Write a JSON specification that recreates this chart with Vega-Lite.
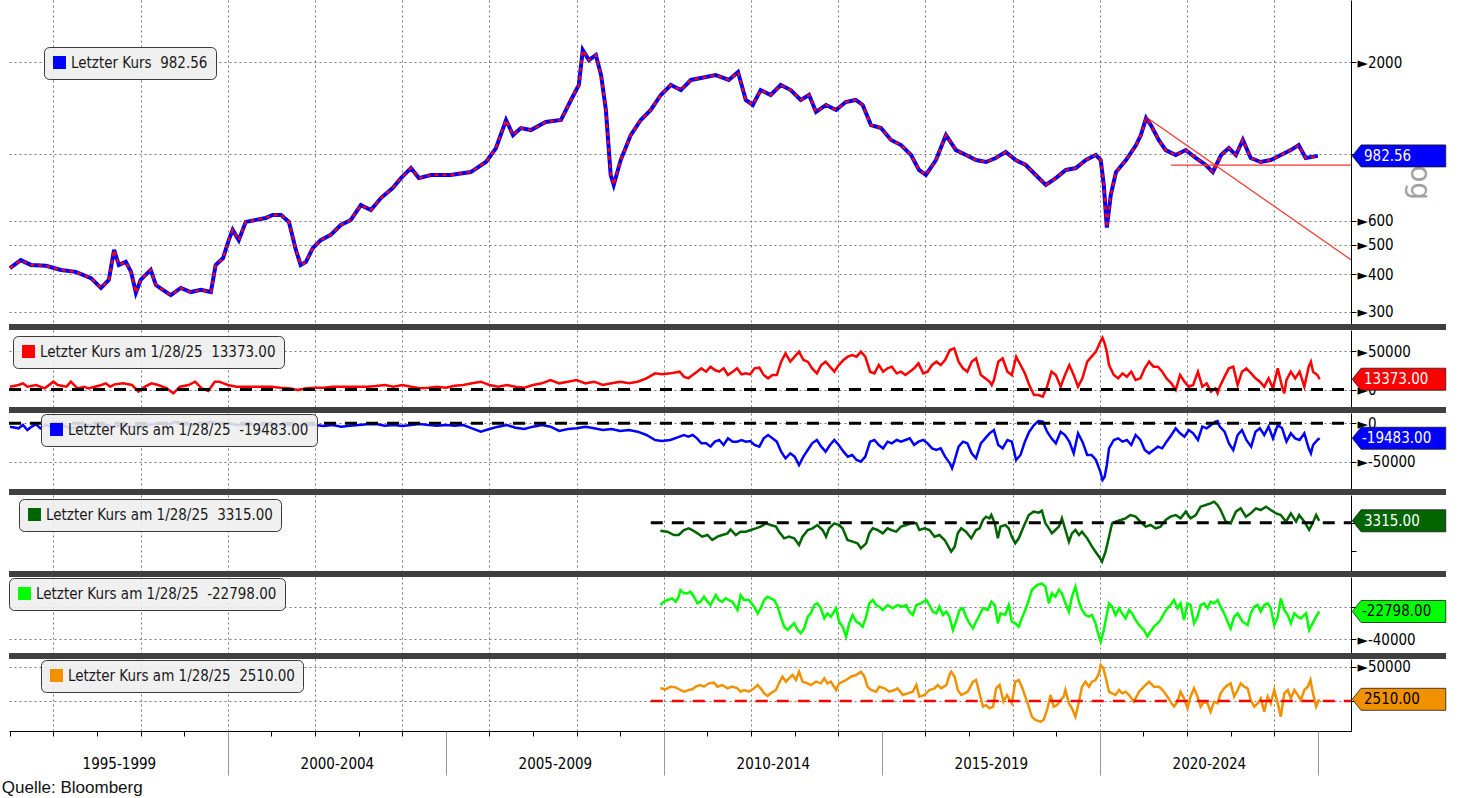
{
"$schema": "https://vega.github.io/schema/vega-lite/v6.json",
"padding": {"left": 1, "top": 0, "right": 10, "bottom": 0},
"background": "white",
"bounds": "flush",
"spacing": 3,
"title": {"text": "Quelle: Bloomberg", "orient": "bottom", "anchor": "start", "font": "Liberation Sans", "fontSize": 17, "fontWeight": "normal", "color": "#111111", "offset": 4},
"config": {
  "view": {"stroke": null},
  "font": "DejaVu Sans Condensed, DejaVu Sans",
  "axis": {"labelFont": "DejaVu Sans Condensed, DejaVu Sans", "labelFontSize": 15, "labelColor": "#000000", "tickColor": "#000000", "domainColor": "#000000", "gridColor": "#7a7a7a", "gridDash": [2, 3], "gridWidth": 1, "tickSize": 5, "labelPadding": 1, "title": null},
  "legend": {"labelFont": "DejaVu Sans Condensed, DejaVu Sans", "labelFontSize": 15, "labelColor": "#1a1a1a", "labelLimit": 600, "fillColor": "rgba(238,238,238,0.88)", "strokeColor": "#3a3a3a", "cornerRadius": 5, "padding": 8, "symbolType": "square", "symbolSize": 170, "symbolStrokeWidth": 0}
},
"resolve": {"scale": {"x": "independent", "y": "independent", "color": "independent"}},
"datasets": {
"price": [{"t":1995.0,"v":419},{"t":1995.25,"v":445},{"t":1995.48,"v":429},{"t":1995.83,"v":426},{"t":1996.17,"v":413},{"t":1996.51,"v":407},{"t":1996.86,"v":388},{"t":1997.09,"v":360},{"t":1997.27,"v":383},{"t":1997.39,"v":481},{"t":1997.5,"v":429},{"t":1997.66,"v":439},{"t":1997.78,"v":407},{"t":1997.89,"v":347},{"t":1998.0,"v":383},{"t":1998.23,"v":413},{"t":1998.35,"v":368},{"t":1998.51,"v":355},{"t":1998.69,"v":341},{"t":1998.92,"v":360},{"t":1999.15,"v":349},{"t":1999.38,"v":355},{"t":1999.61,"v":349},{"t":1999.72,"v":429},{"t":1999.89,"v":452},{"t":2000.02,"v":518},{"t":2000.11,"v":560},{"t":2000.25,"v":518},{"t":2000.41,"v":595},{"t":2000.64,"v":604},{"t":2000.87,"v":613},{"t":2001.03,"v":627},{"t":2001.22,"v":627},{"t":2001.4,"v":595},{"t":2001.56,"v":481},{"t":2001.67,"v":429},{"t":2001.79,"v":439},{"t":2001.95,"v":488},{"t":2002.13,"v":518},{"t":2002.36,"v":539},{"t":2002.59,"v":581},{"t":2002.82,"v":604},{"t":2003.05,"v":676},{"t":2003.28,"v":651},{"t":2003.51,"v":713},{"t":2003.78,"v":770},{"t":2003.97,"v":830},{"t":2004.2,"v":896},{"t":2004.38,"v":830},{"t":2004.66,"v":850},{"t":2005.11,"v":850},{"t":2005.57,"v":869},{"t":2005.92,"v":938},{"t":2006.15,"v":1043},{"t":2006.38,"v":1291},{"t":2006.54,"v":1151},{"t":2006.72,"v":1214},{"t":2006.95,"v":1196},{"t":2007.29,"v":1271},{"t":2007.64,"v":1291},{"t":2007.87,"v":1503},{"t":2008.05,"v":1684},{"t":2008.14,"v":2197},{"t":2008.28,"v":2036},{"t":2008.44,"v":2114},{"t":2008.56,"v":1817},{"t":2008.67,"v":1393},{"t":2008.78,"v":850},{"t":2008.85,"v":788},{"t":2009.01,"v":952},{"t":2009.24,"v":1151},{"t":2009.47,"v":1291},{"t":2009.7,"v":1393},{"t":2009.93,"v":1561},{"t":2010.16,"v":1684},{"t":2010.39,"v":1621},{"t":2010.62,"v":1750},{"t":2010.85,"v":1776},{"t":2011.19,"v":1817},{"t":2011.49,"v":1750},{"t":2011.7,"v":1859},{"t":2011.88,"v":1503},{"t":2012.04,"v":1447},{"t":2012.22,"v":1621},{"t":2012.45,"v":1561},{"t":2012.68,"v":1684},{"t":2012.91,"v":1621},{"t":2013.14,"v":1503},{"t":2013.33,"v":1561},{"t":2013.49,"v":1372},{"t":2013.72,"v":1447},{"t":2013.95,"v":1393},{"t":2014.17,"v":1480},{"t":2014.4,"v":1503},{"t":2014.56,"v":1447},{"t":2014.75,"v":1242},{"t":2014.98,"v":1214},{"t":2015.21,"v":1109},{"t":2015.44,"v":1067},{"t":2015.67,"v":989},{"t":2015.85,"v":883},{"t":2016.01,"v":850},{"t":2016.24,"v":952},{"t":2016.47,"v":1151},{"t":2016.7,"v":1027},{"t":2016.93,"v":989},{"t":2017.16,"v":952},{"t":2017.39,"v":938},{"t":2017.61,"v":967},{"t":2017.84,"v":1012},{"t":2018.07,"v":952},{"t":2018.3,"v":917},{"t":2018.53,"v":850},{"t":2018.76,"v":788},{"t":2018.99,"v":830},{"t":2019.22,"v":883},{"t":2019.45,"v":896},{"t":2019.68,"v":952},{"t":2019.91,"v":989},{"t":2020.02,"v":952},{"t":2020.09,"v":788},{"t":2020.16,"v":570},{"t":2020.25,"v":730},{"t":2020.37,"v":869},{"t":2020.6,"v":952},{"t":2020.83,"v":1067},{"t":2020.94,"v":1151},{"t":2021.06,"v":1310},{"t":2021.17,"v":1242},{"t":2021.35,"v":1109},{"t":2021.51,"v":1027},{"t":2021.74,"v":989},{"t":2021.97,"v":1027},{"t":2022.2,"v":967},{"t":2022.43,"v":917},{"t":2022.59,"v":869},{"t":2022.78,"v":989},{"t":2022.96,"v":1043},{"t":2023.12,"v":989},{"t":2023.28,"v":1109},{"t":2023.46,"v":967},{"t":2023.69,"v":938},{"t":2023.92,"v":952},{"t":2024.15,"v":989},{"t":2024.38,"v":1027},{"t":2024.56,"v":1067},{"t":2024.72,"v":967},{"t":2025.0,"v":982.56}],
"trend": [{"t1":2021.06,"v1":1321,"t2":2025.76,"v2":446},{"t1":2021.63,"v1":916,"t2":2025.76,"v2":916}],
"red": [{"t":1995.0,"v":3680},{"t":1995.2,"v":5840},{"t":1995.3,"v":8010},{"t":1995.4,"v":3680},{"t":1995.6,"v":5840},{"t":1995.8,"v":1520},{"t":1996.0,"v":10170},{"t":1996.1,"v":5840},{"t":1996.3,"v":3680},{"t":1996.4,"v":10170},{"t":1996.55,"v":1520},{"t":1996.7,"v":3680},{"t":1996.8,"v":1520},{"t":1996.95,"v":3680},{"t":1997.1,"v":5840},{"t":1997.2,"v":8010},{"t":1997.3,"v":3680},{"t":1997.4,"v":6700},{"t":1997.6,"v":8010},{"t":1997.8,"v":5840},{"t":1997.95,"v":-2810},{"t":1998.1,"v":3680},{"t":1998.25,"v":8010},{"t":1998.4,"v":5840},{"t":1998.6,"v":1520},{"t":1998.75,"v":-4980},{"t":1998.9,"v":3680},{"t":1999.1,"v":5840},{"t":1999.25,"v":10170},{"t":1999.4,"v":1520},{"t":1999.55,"v":-1950},{"t":1999.7,"v":10170},{"t":1999.8,"v":10170},{"t":2000.0,"v":5840},{"t":2000.2,"v":3680},{"t":2000.4,"v":3680},{"t":2000.6,"v":3680},{"t":2000.8,"v":3680},{"t":2001.0,"v":3680},{"t":2001.2,"v":2380},{"t":2001.4,"v":1520},{"t":2001.6,"v":-650},{"t":2001.8,"v":1520},{"t":2002.0,"v":2380},{"t":2002.2,"v":2380},{"t":2002.4,"v":3680},{"t":2002.6,"v":3680},{"t":2002.8,"v":3680},{"t":2003.0,"v":3680},{"t":2003.2,"v":3680},{"t":2003.4,"v":4550},{"t":2003.6,"v":5840},{"t":2003.8,"v":3680},{"t":2004.0,"v":5840},{"t":2004.2,"v":3680},{"t":2004.4,"v":1520},{"t":2004.6,"v":2380},{"t":2004.8,"v":3680},{"t":2005.0,"v":2380},{"t":2005.2,"v":4980},{"t":2005.4,"v":5840},{"t":2005.6,"v":8010},{"t":2005.8,"v":10170},{"t":2006.0,"v":5840},{"t":2006.2,"v":3680},{"t":2006.4,"v":5840},{"t":2006.6,"v":3680},{"t":2006.8,"v":2380},{"t":2007.0,"v":5840},{"t":2007.2,"v":8010},{"t":2007.4,"v":12340},{"t":2007.6,"v":8010},{"t":2007.8,"v":10170},{"t":2008.0,"v":12340},{"t":2008.2,"v":8010},{"t":2008.4,"v":10170},{"t":2008.6,"v":5840},{"t":2008.8,"v":8010},{"t":2009.0,"v":10170},{"t":2009.2,"v":8010},{"t":2009.4,"v":10170},{"t":2009.6,"v":14500},{"t":2009.8,"v":20990},{"t":2009.95,"v":19690},{"t":2010.15,"v":20990},{"t":2010.36,"v":23160},{"t":2010.46,"v":16670},{"t":2010.56,"v":14500},{"t":2010.66,"v":18830},{"t":2010.76,"v":23160},{"t":2010.86,"v":27490},{"t":2010.97,"v":23160},{"t":2011.07,"v":29650},{"t":2011.17,"v":25320},{"t":2011.27,"v":23160},{"t":2011.37,"v":27490},{"t":2011.47,"v":18830},{"t":2011.58,"v":23160},{"t":2011.68,"v":27490},{"t":2011.78,"v":19690},{"t":2011.88,"v":20990},{"t":2011.98,"v":19690},{"t":2012.08,"v":27490},{"t":2012.19,"v":28350},{"t":2012.29,"v":18830},{"t":2012.39,"v":14500},{"t":2012.49,"v":18830},{"t":2012.59,"v":18830},{"t":2012.69,"v":36150},{"t":2012.79,"v":46970},{"t":2012.9,"v":36150},{"t":2013.0,"v":42640},{"t":2013.1,"v":49130},{"t":2013.2,"v":38310},{"t":2013.3,"v":36150},{"t":2013.4,"v":27490},{"t":2013.51,"v":20990},{"t":2013.61,"v":31820},{"t":2013.71,"v":36150},{"t":2013.81,"v":29650},{"t":2013.91,"v":23160},{"t":2014.01,"v":31820},{"t":2014.12,"v":38310},{"t":2014.22,"v":42640},{"t":2014.32,"v":44800},{"t":2014.42,"v":42640},{"t":2014.52,"v":49130},{"t":2014.62,"v":42640},{"t":2014.73,"v":23160},{"t":2014.83,"v":20990},{"t":2014.93,"v":31820},{"t":2015.03,"v":23160},{"t":2015.13,"v":27490},{"t":2015.23,"v":29650},{"t":2015.34,"v":20990},{"t":2015.44,"v":23160},{"t":2015.54,"v":18830},{"t":2015.64,"v":23160},{"t":2015.74,"v":27490},{"t":2015.84,"v":33980},{"t":2015.95,"v":20990},{"t":2016.05,"v":23160},{"t":2016.15,"v":31820},{"t":2016.25,"v":36150},{"t":2016.35,"v":31820},{"t":2016.45,"v":38310},{"t":2016.56,"v":51300},{"t":2016.66,"v":53460},{"t":2016.76,"v":36150},{"t":2016.86,"v":27490},{"t":2016.96,"v":23160},{"t":2017.06,"v":36150},{"t":2017.16,"v":40480},{"t":2017.27,"v":18830},{"t":2017.37,"v":14500},{"t":2017.47,"v":10170},{"t":2017.52,"v":5840},{"t":2017.57,"v":12340},{"t":2017.67,"v":36150},{"t":2017.77,"v":40480},{"t":2017.88,"v":23160},{"t":2017.98,"v":18830},{"t":2018.08,"v":42640},{"t":2018.18,"v":31820},{"t":2018.28,"v":20990},{"t":2018.38,"v":5840},{"t":2018.49,"v":-7140},{"t":2018.59,"v":-7140},{"t":2018.69,"v":-9310},{"t":2018.79,"v":3680},{"t":2018.89,"v":23160},{"t":2018.99,"v":18830},{"t":2019.1,"v":3680},{"t":2019.2,"v":18830},{"t":2019.3,"v":31820},{"t":2019.4,"v":18830},{"t":2019.5,"v":3680},{"t":2019.6,"v":14500},{"t":2019.71,"v":36150},{"t":2019.81,"v":42640},{"t":2019.91,"v":49130},{"t":2020.01,"v":62100},{"t":2020.06,"v":67300},{"t":2020.11,"v":59960},{"t":2020.16,"v":49130},{"t":2020.21,"v":31820},{"t":2020.32,"v":18830},{"t":2020.42,"v":14500},{"t":2020.52,"v":20990},{"t":2020.62,"v":16670},{"t":2020.72,"v":23160},{"t":2020.82,"v":12340},{"t":2020.93,"v":14500},{"t":2021.03,"v":27490},{"t":2021.13,"v":36150},{"t":2021.23,"v":29650},{"t":2021.33,"v":29650},{"t":2021.43,"v":23160},{"t":2021.53,"v":14500},{"t":2021.64,"v":8010},{"t":2021.74,"v":-650},{"t":2021.84,"v":18830},{"t":2021.94,"v":10170},{"t":2022.04,"v":3680},{"t":2022.14,"v":5840},{"t":2022.25,"v":23160},{"t":2022.35,"v":3680},{"t":2022.45,"v":8010},{"t":2022.55,"v":-2810},{"t":2022.65,"v":1520},{"t":2022.7,"v":-4980},{"t":2022.75,"v":3680},{"t":2022.86,"v":16670},{"t":2022.96,"v":27490},{"t":2023.06,"v":29650},{"t":2023.16,"v":5840},{"t":2023.26,"v":23160},{"t":2023.36,"v":27490},{"t":2023.47,"v":20990},{"t":2023.57,"v":14500},{"t":2023.67,"v":10170},{"t":2023.77,"v":3680},{"t":2023.87,"v":14500},{"t":2023.97,"v":1520},{"t":2024.08,"v":27490},{"t":2024.18,"v":3680},{"t":2024.23,"v":-4980},{"t":2024.28,"v":12340},{"t":2024.38,"v":23160},{"t":2024.48,"v":14500},{"t":2024.58,"v":23160},{"t":2024.69,"v":3680},{"t":2024.79,"v":29650},{"t":2024.84,"v":36150},{"t":2024.89,"v":23160},{"t":2024.99,"v":18830},{"t":2025.04,"v":13373}],
"blue": [{"t":1995.0,"v":-4380},{"t":1995.2,"v":-6550},{"t":1995.3,"v":-2210},{"t":1995.4,"v":-8720},{"t":1995.5,"v":-4380},{"t":1995.6,"v":-1350},{"t":1995.7,"v":-6550},{"t":1995.8,"v":-2210},{"t":1996.0,"v":-4380},{"t":1996.2,"v":-2210},{"t":1996.4,"v":-6550},{"t":1996.6,"v":-4380},{"t":1996.8,"v":-2210},{"t":1997.0,"v":-4380},{"t":1997.2,"v":-2210},{"t":1997.4,"v":-4380},{"t":1997.6,"v":-2210},{"t":1997.8,"v":-4380},{"t":1998.0,"v":-1350},{"t":1998.2,"v":-2210},{"t":1998.4,"v":-40},{"t":1998.6,"v":-2210},{"t":1998.8,"v":2130},{"t":1999.0,"v":-1350},{"t":1999.2,"v":-2210},{"t":1999.4,"v":-1350},{"t":1999.6,"v":2130},{"t":1999.8,"v":-40},{"t":2000.0,"v":-40},{"t":2000.2,"v":-2210},{"t":2000.4,"v":-2210},{"t":2000.6,"v":-1350},{"t":2000.8,"v":-2210},{"t":2001.0,"v":-1350},{"t":2001.2,"v":-2210},{"t":2001.4,"v":-2210},{"t":2001.6,"v":-3080},{"t":2001.8,"v":-2210},{"t":2002.0,"v":-2210},{"t":2002.2,"v":-3520},{"t":2002.4,"v":-2210},{"t":2002.6,"v":-4380},{"t":2002.8,"v":-3080},{"t":2003.0,"v":-2210},{"t":2003.2,"v":-1350},{"t":2003.4,"v":-900},{"t":2003.6,"v":-3080},{"t":2003.8,"v":-2210},{"t":2004.0,"v":-3520},{"t":2004.2,"v":-2210},{"t":2004.4,"v":-900},{"t":2004.6,"v":-2210},{"t":2004.8,"v":-3080},{"t":2005.0,"v":-2210},{"t":2005.2,"v":-3080},{"t":2005.4,"v":-2210},{"t":2005.6,"v":-6550},{"t":2005.8,"v":-10890},{"t":2006.0,"v":-7420},{"t":2006.2,"v":-4380},{"t":2006.4,"v":-2210},{"t":2006.6,"v":-5690},{"t":2006.8,"v":-7420},{"t":2007.0,"v":-4380},{"t":2007.2,"v":-2210},{"t":2007.4,"v":-4380},{"t":2007.6,"v":-10020},{"t":2007.8,"v":-7420},{"t":2008.0,"v":-6550},{"t":2008.2,"v":-4380},{"t":2008.4,"v":-6550},{"t":2008.6,"v":-8720},{"t":2008.8,"v":-7420},{"t":2009.0,"v":-10020},{"t":2009.2,"v":-8720},{"t":2009.4,"v":-10890},{"t":2009.6,"v":-15230},{"t":2009.8,"v":-21740},{"t":2009.95,"v":-23040},{"t":2010.15,"v":-21740},{"t":2010.36,"v":-17400},{"t":2010.46,"v":-15230},{"t":2010.56,"v":-17400},{"t":2010.66,"v":-15230},{"t":2010.76,"v":-19570},{"t":2010.86,"v":-26080},{"t":2010.97,"v":-26080},{"t":2011.07,"v":-30420},{"t":2011.17,"v":-23910},{"t":2011.27,"v":-21740},{"t":2011.37,"v":-28250},{"t":2011.47,"v":-19570},{"t":2011.58,"v":-23910},{"t":2011.68,"v":-23910},{"t":2011.78,"v":-21740},{"t":2011.88,"v":-23910},{"t":2011.98,"v":-23040},{"t":2012.08,"v":-28250},{"t":2012.19,"v":-30420},{"t":2012.29,"v":-19570},{"t":2012.39,"v":-15230},{"t":2012.49,"v":-19570},{"t":2012.59,"v":-23910},{"t":2012.69,"v":-36930},{"t":2012.79,"v":-45610},{"t":2012.9,"v":-39100},{"t":2013.0,"v":-43440},{"t":2013.1,"v":-54290},{"t":2013.2,"v":-43440},{"t":2013.3,"v":-34760},{"t":2013.4,"v":-26080},{"t":2013.51,"v":-21740},{"t":2013.61,"v":-30420},{"t":2013.71,"v":-36930},{"t":2013.81,"v":-28250},{"t":2013.91,"v":-21740},{"t":2014.01,"v":-28250},{"t":2014.12,"v":-36930},{"t":2014.22,"v":-43440},{"t":2014.32,"v":-41270},{"t":2014.42,"v":-47780},{"t":2014.52,"v":-49950},{"t":2014.62,"v":-43440},{"t":2014.73,"v":-23910},{"t":2014.83,"v":-21740},{"t":2014.93,"v":-28250},{"t":2015.03,"v":-32590},{"t":2015.13,"v":-23910},{"t":2015.23,"v":-26080},{"t":2015.34,"v":-21740},{"t":2015.44,"v":-23910},{"t":2015.54,"v":-21740},{"t":2015.64,"v":-19570},{"t":2015.74,"v":-28250},{"t":2015.84,"v":-23910},{"t":2015.95,"v":-21740},{"t":2016.05,"v":-26080},{"t":2016.15,"v":-32590},{"t":2016.25,"v":-34760},{"t":2016.35,"v":-32590},{"t":2016.45,"v":-43440},{"t":2016.56,"v":-52120},{"t":2016.61,"v":-58630},{"t":2016.66,"v":-49950},{"t":2016.76,"v":-30420},{"t":2016.86,"v":-23910},{"t":2016.96,"v":-26080},{"t":2017.06,"v":-39100},{"t":2017.16,"v":-45610},{"t":2017.27,"v":-26080},{"t":2017.37,"v":-19570},{"t":2017.47,"v":-13060},{"t":2017.57,"v":-8720},{"t":2017.67,"v":-28250},{"t":2017.77,"v":-32590},{"t":2017.88,"v":-21740},{"t":2017.98,"v":-23910},{"t":2018.08,"v":-47780},{"t":2018.18,"v":-41270},{"t":2018.28,"v":-23910},{"t":2018.38,"v":-10890},{"t":2018.49,"v":-2210},{"t":2018.59,"v":2990},{"t":2018.69,"v":2130},{"t":2018.79,"v":-10890},{"t":2018.89,"v":-19570},{"t":2018.99,"v":-26080},{"t":2019.1,"v":-10890},{"t":2019.2,"v":-15230},{"t":2019.3,"v":-23910},{"t":2019.4,"v":-39100},{"t":2019.5,"v":-13060},{"t":2019.6,"v":-23910},{"t":2019.71,"v":-41270},{"t":2019.81,"v":-41270},{"t":2019.91,"v":-47780},{"t":2020.01,"v":-62970},{"t":2020.06,"v":-73820},{"t":2020.11,"v":-69480},{"t":2020.16,"v":-54290},{"t":2020.21,"v":-32590},{"t":2020.32,"v":-21740},{"t":2020.42,"v":-19570},{"t":2020.52,"v":-23910},{"t":2020.62,"v":-21740},{"t":2020.72,"v":-28250},{"t":2020.82,"v":-15230},{"t":2020.93,"v":-21740},{"t":2021.03,"v":-34760},{"t":2021.13,"v":-39100},{"t":2021.23,"v":-34760},{"t":2021.33,"v":-30420},{"t":2021.43,"v":-32590},{"t":2021.53,"v":-23910},{"t":2021.64,"v":-15230},{"t":2021.74,"v":-6550},{"t":2021.84,"v":-13060},{"t":2021.94,"v":-17400},{"t":2022.04,"v":-8720},{"t":2022.14,"v":-13060},{"t":2022.25,"v":-21740},{"t":2022.35,"v":-4380},{"t":2022.45,"v":-6550},{"t":2022.55,"v":-2210},{"t":2022.65,"v":2130},{"t":2022.7,"v":2990},{"t":2022.75,"v":-4380},{"t":2022.86,"v":-10890},{"t":2022.96,"v":-26080},{"t":2023.06,"v":-34760},{"t":2023.16,"v":-15230},{"t":2023.26,"v":-8720},{"t":2023.36,"v":-21740},{"t":2023.47,"v":-30420},{"t":2023.57,"v":-10890},{"t":2023.67,"v":-6550},{"t":2023.77,"v":-15230},{"t":2023.87,"v":-4380},{"t":2023.97,"v":-19570},{"t":2024.08,"v":-2210},{"t":2024.18,"v":-6550},{"t":2024.28,"v":-23910},{"t":2024.38,"v":-13060},{"t":2024.48,"v":-19570},{"t":2024.58,"v":-21740},{"t":2024.69,"v":-13060},{"t":2024.79,"v":-32590},{"t":2024.84,"v":-39100},{"t":2024.89,"v":-28250},{"t":2024.99,"v":-21740},{"t":2025.04,"v":-19483}],
"green": [{"t":2009.92,"v":-13980},{"t":2010.08,"v":-15730},{"t":2010.23,"v":-21570},{"t":2010.34,"v":-21570},{"t":2010.46,"v":-12800},{"t":2010.57,"v":-9880},{"t":2010.65,"v":-12800},{"t":2010.77,"v":-18650},{"t":2010.88,"v":-24500},{"t":2011.0,"v":-21570},{"t":2011.11,"v":-30340},{"t":2011.23,"v":-24500},{"t":2011.34,"v":-21570},{"t":2011.46,"v":-18650},{"t":2011.53,"v":-11640},{"t":2011.65,"v":-21570},{"t":2011.76,"v":-15730},{"t":2011.88,"v":-15730},{"t":2011.99,"v":-12800},{"t":2012.11,"v":-9880},{"t":2012.22,"v":-6960},{"t":2012.34,"v":-1110},{"t":2012.45,"v":-4030},{"t":2012.57,"v":-6960},{"t":2012.64,"v":-15730},{"t":2012.76,"v":-27420},{"t":2012.87,"v":-24500},{"t":2012.99,"v":-27420},{"t":2013.1,"v":-39110},{"t":2013.18,"v":-24500},{"t":2013.3,"v":-12800},{"t":2013.41,"v":-9880},{"t":2013.52,"v":-4030},{"t":2013.64,"v":-12800},{"t":2013.72,"v":-24500},{"t":2013.79,"v":-9880},{"t":2013.91,"v":-1110},{"t":2014.02,"v":-4030},{"t":2014.1,"v":-9880},{"t":2014.21,"v":-30340},{"t":2014.33,"v":-33270},{"t":2014.44,"v":-36190},{"t":2014.52,"v":-44960},{"t":2014.64,"v":-36190},{"t":2014.71,"v":-18650},{"t":2014.79,"v":-9880},{"t":2014.9,"v":-12800},{"t":2015.02,"v":-18650},{"t":2015.13,"v":-9880},{"t":2015.21,"v":-12800},{"t":2015.33,"v":-15730},{"t":2015.44,"v":-6960},{"t":2015.56,"v":-4030},{"t":2015.67,"v":-1110},{"t":2015.79,"v":-1110},{"t":2015.86,"v":-12800},{"t":2015.98,"v":-9880},{"t":2016.09,"v":-12800},{"t":2016.21,"v":-24500},{"t":2016.32,"v":-21570},{"t":2016.44,"v":-30340},{"t":2016.55,"v":-44960},{"t":2016.59,"v":-50810},{"t":2016.67,"v":-42040},{"t":2016.74,"v":-18650},{"t":2016.82,"v":-9880},{"t":2016.93,"v":-15730},{"t":2017.05,"v":-27420},{"t":2017.16,"v":-12800},{"t":2017.24,"v":-9880},{"t":2017.32,"v":4740},{"t":2017.39,"v":10580},{"t":2017.47,"v":7660},{"t":2017.51,"v":13500},{"t":2017.59,"v":-1110},{"t":2017.66,"v":-27420},{"t":2017.72,"v":-6960},{"t":2017.83,"v":-4030},{"t":2017.91,"v":-9880},{"t":2017.98,"v":-24500},{"t":2018.06,"v":-36190},{"t":2018.14,"v":-27420},{"t":2018.25,"v":-6960},{"t":2018.37,"v":13500},{"t":2018.48,"v":19350},{"t":2018.6,"v":17600},{"t":2018.67,"v":21110},{"t":2018.75,"v":-1110},{"t":2018.83,"v":-9880},{"t":2018.9,"v":-18650},{"t":2018.98,"v":-12800},{"t":2019.06,"v":-6960},{"t":2019.13,"v":7660},{"t":2019.21,"v":-12800},{"t":2019.29,"v":-33270},{"t":2019.36,"v":-18650},{"t":2019.44,"v":-12800},{"t":2019.52,"v":-21570},{"t":2019.59,"v":-15730},{"t":2019.71,"v":-27420},{"t":2019.82,"v":-42040},{"t":2019.9,"v":-50810},{"t":2019.98,"v":-59580},{"t":2020.05,"v":-68350},{"t":2020.13,"v":-50810},{"t":2020.21,"v":-24500},{"t":2020.28,"v":-1110},{"t":2020.36,"v":1810},{"t":2020.48,"v":4740},{"t":2020.59,"v":7660},{"t":2020.7,"v":13500},{"t":2020.82,"v":10580},{"t":2020.93,"v":1810},{"t":2021.05,"v":-6960},{"t":2021.16,"v":-4030},{"t":2021.28,"v":-9880},{"t":2021.39,"v":-6960},{"t":2021.51,"v":4740},{"t":2021.62,"v":10580},{"t":2021.74,"v":13500},{"t":2021.85,"v":7660},{"t":2021.97,"v":19350},{"t":2022.08,"v":7660},{"t":2022.2,"v":13500},{"t":2022.31,"v":28120},{"t":2022.43,"v":31050},{"t":2022.54,"v":33970},{"t":2022.62,"v":36890},{"t":2022.7,"v":31050},{"t":2022.77,"v":22280},{"t":2022.89,"v":1810},{"t":2023.0,"v":-1110},{"t":2023.12,"v":19350},{"t":2023.23,"v":25200},{"t":2023.35,"v":10580},{"t":2023.46,"v":16430},{"t":2023.58,"v":25200},{"t":2023.69,"v":22280},{"t":2023.81,"v":28120},{"t":2023.92,"v":22280},{"t":2024.04,"v":16430},{"t":2024.15,"v":13500},{"t":2024.27,"v":1810},{"t":2024.38,"v":16430},{"t":2024.5,"v":1810},{"t":2024.57,"v":13500},{"t":2024.69,"v":1810},{"t":2024.8,"v":-12800},{"t":2024.88,"v":-1110},{"t":2024.96,"v":13500},{"t":2025.03,"v":3315}],
"lime": [{"t":2009.92,"v":-18750},{"t":2010.0,"v":-16670},{"t":2010.08,"v":-15630},{"t":2010.19,"v":-14580},{"t":2010.27,"v":-16670},{"t":2010.34,"v":-13540},{"t":2010.38,"v":-9380},{"t":2010.46,"v":-11460},{"t":2010.54,"v":-11460},{"t":2010.61,"v":-10420},{"t":2010.69,"v":-13540},{"t":2010.77,"v":-17710},{"t":2010.84,"v":-16670},{"t":2010.92,"v":-13540},{"t":2011.0,"v":-16670},{"t":2011.07,"v":-18750},{"t":2011.19,"v":-12500},{"t":2011.26,"v":-15630},{"t":2011.34,"v":-16670},{"t":2011.42,"v":-14580},{"t":2011.49,"v":-15630},{"t":2011.57,"v":-16670},{"t":2011.69,"v":-21880},{"t":2011.76,"v":-12500},{"t":2011.84,"v":-15630},{"t":2011.95,"v":-15630},{"t":2012.07,"v":-19790},{"t":2012.15,"v":-23960},{"t":2012.22,"v":-20830},{"t":2012.3,"v":-15630},{"t":2012.38,"v":-13540},{"t":2012.45,"v":-14580},{"t":2012.53,"v":-15630},{"t":2012.61,"v":-19790},{"t":2012.68,"v":-26040},{"t":2012.76,"v":-32290},{"t":2012.84,"v":-34380},{"t":2012.91,"v":-32290},{"t":2012.99,"v":-30210},{"t":2013.07,"v":-34380},{"t":2013.14,"v":-36460},{"t":2013.22,"v":-33330},{"t":2013.3,"v":-26040},{"t":2013.37,"v":-23960},{"t":2013.45,"v":-18750},{"t":2013.52,"v":-17710},{"t":2013.6,"v":-20830},{"t":2013.68,"v":-27080},{"t":2013.75,"v":-23960},{"t":2013.83,"v":-26040},{"t":2013.95,"v":-20830},{"t":2014.02,"v":-29170},{"t":2014.1,"v":-32290},{"t":2014.18,"v":-38540},{"t":2014.25,"v":-30210},{"t":2014.33,"v":-25000},{"t":2014.41,"v":-29170},{"t":2014.48,"v":-30210},{"t":2014.56,"v":-32290},{"t":2014.64,"v":-26040},{"t":2014.71,"v":-17710},{"t":2014.79,"v":-15630},{"t":2014.87,"v":-18750},{"t":2014.94,"v":-19790},{"t":2015.02,"v":-21880},{"t":2015.13,"v":-18750},{"t":2015.25,"v":-20830},{"t":2015.36,"v":-18750},{"t":2015.48,"v":-19790},{"t":2015.56,"v":-18750},{"t":2015.63,"v":-22920},{"t":2015.71,"v":-25000},{"t":2015.79,"v":-18750},{"t":2015.9,"v":-17710},{"t":2016.02,"v":-15630},{"t":2016.09,"v":-18750},{"t":2016.17,"v":-22920},{"t":2016.25,"v":-23960},{"t":2016.32,"v":-19790},{"t":2016.4,"v":-25000},{"t":2016.48,"v":-22920},{"t":2016.55,"v":-26040},{"t":2016.63,"v":-34380},{"t":2016.7,"v":-29170},{"t":2016.78,"v":-21880},{"t":2016.86,"v":-20830},{"t":2016.93,"v":-26040},{"t":2017.01,"v":-30210},{"t":2017.09,"v":-33330},{"t":2017.16,"v":-29170},{"t":2017.24,"v":-25000},{"t":2017.32,"v":-20830},{"t":2017.43,"v":-21880},{"t":2017.51,"v":-16670},{"t":2017.59,"v":-18750},{"t":2017.66,"v":-30210},{"t":2017.72,"v":-23960},{"t":2017.83,"v":-25000},{"t":2017.91,"v":-18750},{"t":2017.98,"v":-29170},{"t":2018.06,"v":-30210},{"t":2018.14,"v":-32290},{"t":2018.21,"v":-27080},{"t":2018.29,"v":-21880},{"t":2018.37,"v":-15630},{"t":2018.44,"v":-9380},{"t":2018.56,"v":-6250},{"t":2018.67,"v":-5210},{"t":2018.75,"v":-7290},{"t":2018.83,"v":-17710},{"t":2018.9,"v":-11460},{"t":2018.98,"v":-13540},{"t":2019.06,"v":-9380},{"t":2019.13,"v":-11460},{"t":2019.21,"v":-17710},{"t":2019.29,"v":-22920},{"t":2019.36,"v":-13540},{"t":2019.44,"v":-7290},{"t":2019.52,"v":-16670},{"t":2019.59,"v":-21880},{"t":2019.67,"v":-25000},{"t":2019.75,"v":-26040},{"t":2019.82,"v":-25000},{"t":2019.9,"v":-30210},{"t":2019.98,"v":-38540},{"t":2020.02,"v":-41670},{"t":2020.09,"v":-34380},{"t":2020.21,"v":-17710},{"t":2020.28,"v":-19790},{"t":2020.36,"v":-25000},{"t":2020.44,"v":-20830},{"t":2020.51,"v":-23960},{"t":2020.59,"v":-27080},{"t":2020.67,"v":-21880},{"t":2020.74,"v":-23960},{"t":2020.82,"v":-28130},{"t":2020.93,"v":-32290},{"t":2021.01,"v":-34380},{"t":2021.09,"v":-38540},{"t":2021.16,"v":-35420},{"t":2021.24,"v":-32290},{"t":2021.32,"v":-30210},{"t":2021.39,"v":-28130},{"t":2021.47,"v":-23960},{"t":2021.55,"v":-20830},{"t":2021.62,"v":-18750},{"t":2021.7,"v":-15630},{"t":2021.78,"v":-20830},{"t":2021.85,"v":-17710},{"t":2021.93,"v":-28130},{"t":2022.01,"v":-17710},{"t":2022.08,"v":-18750},{"t":2022.16,"v":-30210},{"t":2022.24,"v":-26040},{"t":2022.31,"v":-18750},{"t":2022.39,"v":-17710},{"t":2022.47,"v":-20830},{"t":2022.54,"v":-16670},{"t":2022.62,"v":-17710},{"t":2022.7,"v":-15630},{"t":2022.77,"v":-19790},{"t":2022.85,"v":-23960},{"t":2022.93,"v":-29170},{"t":2023.0,"v":-33330},{"t":2023.08,"v":-26040},{"t":2023.16,"v":-23960},{"t":2023.27,"v":-29170},{"t":2023.39,"v":-31250},{"t":2023.46,"v":-23960},{"t":2023.54,"v":-19790},{"t":2023.62,"v":-18750},{"t":2023.69,"v":-22920},{"t":2023.77,"v":-18750},{"t":2023.85,"v":-17710},{"t":2023.92,"v":-20830},{"t":2024.0,"v":-31250},{"t":2024.08,"v":-26040},{"t":2024.15,"v":-14580},{"t":2024.23,"v":-21880},{"t":2024.31,"v":-25000},{"t":2024.38,"v":-30210},{"t":2024.46,"v":-23960},{"t":2024.54,"v":-26040},{"t":2024.61,"v":-27080},{"t":2024.73,"v":-23960},{"t":2024.8,"v":-34380},{"t":2024.88,"v":-30210},{"t":2024.96,"v":-26040},{"t":2025.03,"v":-22798}],
"orange": [{"t":2009.92,"v":18620},{"t":2010.04,"v":17150},{"t":2010.15,"v":21070},{"t":2010.27,"v":20090},{"t":2010.38,"v":16170},{"t":2010.46,"v":13720},{"t":2010.57,"v":16170},{"t":2010.65,"v":17150},{"t":2010.73,"v":21070},{"t":2010.84,"v":23520},{"t":2010.92,"v":21070},{"t":2011.03,"v":25970},{"t":2011.15,"v":26950},{"t":2011.23,"v":21070},{"t":2011.34,"v":23520},{"t":2011.46,"v":18620},{"t":2011.57,"v":21070},{"t":2011.69,"v":18620},{"t":2011.76,"v":13720},{"t":2011.84,"v":16170},{"t":2011.95,"v":13720},{"t":2012.07,"v":18620},{"t":2012.15,"v":23520},{"t":2012.22,"v":18620},{"t":2012.3,"v":11270},{"t":2012.38,"v":7350},{"t":2012.45,"v":11270},{"t":2012.57,"v":16170},{"t":2012.64,"v":25970},{"t":2012.72,"v":35770},{"t":2012.8,"v":28420},{"t":2012.87,"v":33320},{"t":2012.95,"v":38220},{"t":2013.03,"v":30870},{"t":2013.1,"v":43120},{"t":2013.18,"v":28420},{"t":2013.3,"v":25970},{"t":2013.37,"v":23520},{"t":2013.49,"v":28420},{"t":2013.6,"v":25970},{"t":2013.68,"v":33320},{"t":2013.75,"v":25970},{"t":2013.83,"v":28420},{"t":2013.95,"v":16170},{"t":2014.02,"v":25970},{"t":2014.1,"v":28420},{"t":2014.18,"v":30870},{"t":2014.29,"v":35770},{"t":2014.41,"v":38220},{"t":2014.52,"v":43120},{"t":2014.6,"v":35770},{"t":2014.67,"v":21070},{"t":2014.75,"v":16170},{"t":2014.87,"v":13720},{"t":2014.94,"v":21070},{"t":2015.06,"v":18620},{"t":2015.17,"v":13720},{"t":2015.29,"v":16170},{"t":2015.36,"v":18620},{"t":2015.48,"v":8820},{"t":2015.59,"v":11270},{"t":2015.71,"v":13720},{"t":2015.79,"v":23520},{"t":2015.86,"v":6370},{"t":2015.98,"v":8820},{"t":2016.09,"v":16170},{"t":2016.21,"v":18620},{"t":2016.28,"v":23520},{"t":2016.36,"v":18620},{"t":2016.48,"v":23520},{"t":2016.55,"v":38220},{"t":2016.59,"v":43120},{"t":2016.67,"v":35770},{"t":2016.74,"v":16170},{"t":2016.82,"v":8820},{"t":2016.9,"v":11270},{"t":2016.97,"v":13720},{"t":2017.09,"v":28420},{"t":2017.16,"v":30870},{"t":2017.24,"v":11270},{"t":2017.32,"v":-8330},{"t":2017.39,"v":-5880},{"t":2017.47,"v":-10780},{"t":2017.55,"v":-8330},{"t":2017.62,"v":18620},{"t":2017.7,"v":23520},{"t":2017.79,"v":-980},{"t":2017.87,"v":8820},{"t":2017.98,"v":-3430},{"t":2018.06,"v":28420},{"t":2018.14,"v":30870},{"t":2018.21,"v":21070},{"t":2018.29,"v":6370},{"t":2018.37,"v":-8330},{"t":2018.44,"v":-23030},{"t":2018.52,"v":-27930},{"t":2018.64,"v":-30380},{"t":2018.71,"v":-27930},{"t":2018.79,"v":-13230},{"t":2018.87,"v":8820},{"t":2018.94,"v":-8330},{"t":2019.02,"v":-5880},{"t":2019.1,"v":1470},{"t":2019.17,"v":6370},{"t":2019.21,"v":16170},{"t":2019.29,"v":-3430},{"t":2019.36,"v":-10780},{"t":2019.44,"v":-23030},{"t":2019.52,"v":-980},{"t":2019.59,"v":21070},{"t":2019.67,"v":28420},{"t":2019.75,"v":21070},{"t":2019.82,"v":28420},{"t":2019.9,"v":30870},{"t":2019.98,"v":40670},{"t":2020.02,"v":52920},{"t":2020.08,"v":48020},{"t":2020.13,"v":35770},{"t":2020.21,"v":13720},{"t":2020.28,"v":11270},{"t":2020.36,"v":8820},{"t":2020.44,"v":16170},{"t":2020.51,"v":11270},{"t":2020.59,"v":13720},{"t":2020.67,"v":8820},{"t":2020.78,"v":-980},{"t":2020.9,"v":13720},{"t":2021.01,"v":21070},{"t":2021.13,"v":28420},{"t":2021.24,"v":21070},{"t":2021.36,"v":21070},{"t":2021.47,"v":13720},{"t":2021.55,"v":6370},{"t":2021.62,"v":-980},{"t":2021.7,"v":-8330},{"t":2021.78,"v":-980},{"t":2021.85,"v":13720},{"t":2021.93,"v":3920},{"t":2022.01,"v":-10780},{"t":2022.08,"v":6370},{"t":2022.16,"v":18620},{"t":2022.24,"v":6370},{"t":2022.31,"v":-8330},{"t":2022.39,"v":-980},{"t":2022.47,"v":-3430},{"t":2022.54,"v":-15680},{"t":2022.62,"v":-980},{"t":2022.7,"v":-3430},{"t":2022.77,"v":11270},{"t":2022.85,"v":18620},{"t":2022.93,"v":23520},{"t":2023.0,"v":25970},{"t":2023.08,"v":6370},{"t":2023.16,"v":16170},{"t":2023.23,"v":25970},{"t":2023.31,"v":21070},{"t":2023.39,"v":18620},{"t":2023.46,"v":1470},{"t":2023.54,"v":-8330},{"t":2023.62,"v":-3430},{"t":2023.69,"v":3920},{"t":2023.77,"v":-15680},{"t":2023.85,"v":6370},{"t":2023.92,"v":-3430},{"t":2024.0,"v":16170},{"t":2024.08,"v":-3430},{"t":2024.15,"v":-23030},{"t":2024.23,"v":11270},{"t":2024.31,"v":16170},{"t":2024.38,"v":3920},{"t":2024.46,"v":16170},{"t":2024.54,"v":8820},{"t":2024.61,"v":1470},{"t":2024.69,"v":16170},{"t":2024.77,"v":21070},{"t":2024.83,"v":30870},{"t":2024.88,"v":13720},{"t":2024.96,"v":-8330},{"t":2025.03,"v":2510}]
},
"vconcat": [
{
 "width": 1342, "height": 327,
 "layer": [
  {"data": {"name": "price"}, "mark": {"type": "line", "strokeWidth": 4},
   "encoding": {
    "x": {"field": "t", "type": "quantitative", "scale": {"domain": [1994.98, 2025.76], "nice": false, "zero": false}, "axis": {"values": [1996,1998,2000,2002,2004,2006,2008,2010,2012,2014,2016,2018,2020,2022,2024], "grid": true, "ticks": false, "labels": false, "domain": false}},
    "y": {"field": "v", "type": "quantitative", "scale": {"type": "log", "domain": [267.6, 3214], "nice": false}, "axis": {"orient": "right", "values": [300,400,500,600,1000,2000], "labelExpr": "datum.value == 1000 ? '' : '\u25ba' + toString(datum.value)", "grid": true}},
    "color": {"datum": "Letzter Kurs\u00a0\u00a0982.56", "type": "nominal", "scale": {"range": ["#0000ff"]}, "legend": {"orient": "none", "legendX": 35, "legendY": 47, "title": null, "symbolFillColor": "#0000ff", "symbolStrokeColor": "#0000ff", "symbolType": "square", "encode": {"symbols": {"update": {"fill": {"value": "#0000ff"}, "stroke": {"value": "#0000ff"}, "shape": {"value": "square"}}}}}}
   }},
  {"data": {"name": "price"}, "mark": {"type": "line", "color": "#ff0000", "strokeWidth": 2.3, "strokeDash": [4, 4]},
   "encoding": {"x": {"field": "t", "type": "quantitative"}, "y": {"field": "v", "type": "quantitative"}}},
  {"data": {"name": "trend"}, "mark": {"type": "rule", "color": "#ff3030", "strokeWidth": 1.2},
   "encoding": {"x": {"field": "t1", "type": "quantitative"}, "x2": {"field": "t2"}, "y": {"field": "v1", "type": "quantitative"}, "y2": {"field": "v2"}}},
  {"data": {"values": [{}]}, "mark": {"type": "rule", "color": "#404040", "strokeWidth": 6, "x2Offset": 95},
   "encoding": {"x": {"datum": 1994.98, "type": "quantitative"}, "x2": {"datum": 2025.76}, "y": {"datum": 267.6, "type": "quantitative"}}},
  {"data": {"values": [{}]}, "mark": {"type": "text", "text": "Log", "angle": 90, "fontSize": 28, "color": "#a0a0a0", "font": "DejaVu Sans", "align": "center", "baseline": "middle", "xOffset": 68},
   "encoding": {"x": {"datum": 2025.76, "type": "quantitative"}, "y": {"datum": 849, "type": "quantitative"}}},
  {"data": {"values": [{"v": 982.56, "s": "982.56"}]}, "mark": {"type": "point", "shape": "M-4.25,0L-3.45,-1L4.25,-1L4.25,1L-3.45,1Z", "size": 484, "filled": true, "fill": "#0000ff", "stroke": "#1a1a1a", "strokeWidth": 0.8, "opacity": 1, "xOffset": 48},
   "encoding": {"x": {"datum": 2025.76, "type": "quantitative"}, "y": {"field": "v", "type": "quantitative"}}},
  {"data": {"values": [{"v": 982.56, "s": "982.56"}]}, "mark": {"type": "text", "align": "left", "dx": 13, "color": "#ffffff", "fontSize": 15, "font": "DejaVu Sans Condensed, DejaVu Sans"},
   "encoding": {"x": {"datum": 2025.76, "type": "quantitative"}, "y": {"field": "v", "type": "quantitative"}, "text": {"field": "s"}}}
 ]
},
{
 "width": 1342, "height": 80,
 "layer": [
  {"data": {"name": "red"}, "mark": {"type": "line", "strokeWidth": 2.5},
   "encoding": {
    "x": {"field": "t", "type": "quantitative", "scale": {"domain": [1994.98, 2025.76], "nice": false, "zero": false}, "axis": {"values": [1996,1998,2000,2002,2004,2006,2008,2010,2012,2014,2016,2018,2020,2022,2024], "grid": true, "ticks": false, "labels": false, "domain": false}},
    "y": {"field": "v", "type": "quantitative", "scale": {"domain": [-26600, 77300], "nice": false, "zero": false}, "axis": {"orient": "right", "values": [0, 50000], "labelExpr": "'\u25ba' + toString(datum.value)", "grid": true}},
    "color": {"datum": "Letzter Kurs am 1/28/25\u00a0\u00a013373.00", "type": "nominal", "scale": {"range": ["#ff0000"]}, "legend": {"orient": "none", "legendX": 4, "legendY": 6, "title": null, "symbolFillColor": "#ff0000", "symbolStrokeColor": "#ff0000", "symbolType": "square", "encode": {"symbols": {"update": {"fill": {"value": "#ff0000"}, "stroke": {"value": "#ff0000"}, "shape": {"value": "square"}}}}}}
   }},
  {"data": {"values": [{"t1": 1994.98, "t2": 2025.76, "v": 0}]}, "mark": {"type": "rule", "color": "#000000", "strokeWidth": 3, "strokeDash": [12, 9]},
   "encoding": {"x": {"field": "t1", "type": "quantitative"}, "x2": {"field": "t2"}, "y": {"field": "v", "type": "quantitative"}}},
  {"data": {"values": [{}]}, "mark": {"type": "rule", "color": "#404040", "strokeWidth": 6, "x2Offset": 95},
   "encoding": {"x": {"datum": 1994.98, "type": "quantitative"}, "x2": {"datum": 2025.76}, "y": {"datum": -26600, "type": "quantitative"}}},
  {"data": {"values": [{"v": 13373, "s": "13373.00"}]}, "mark": {"type": "point", "shape": "M-4.25,0L-3.45,-1L4.25,-1L4.25,1L-3.45,1Z", "size": 484, "filled": true, "fill": "#ff0000", "stroke": "#1a1a1a", "strokeWidth": 0.8, "opacity": 1, "xOffset": 48},
   "encoding": {"x": {"datum": 2025.76, "type": "quantitative"}, "y": {"field": "v", "type": "quantitative"}}},
  {"data": {"values": [{"v": 13373, "s": "13373.00"}]}, "mark": {"type": "text", "align": "left", "dx": 13, "color": "#ffffff", "fontSize": 15, "font": "DejaVu Sans Condensed, DejaVu Sans"},
   "encoding": {"x": {"datum": 2025.76, "type": "quantitative"}, "y": {"field": "v", "type": "quantitative"}, "text": {"field": "s"}}}
 ]
},
{
 "width": 1342, "height": 79,
 "layer": [
  {"data": {"name": "blue"}, "mark": {"type": "line", "strokeWidth": 2.5},
   "encoding": {
    "x": {"field": "t", "type": "quantitative", "scale": {"domain": [1994.98, 2025.76], "nice": false, "zero": false}, "axis": {"values": [1996,1998,2000,2002,2004,2006,2008,2010,2012,2014,2016,2018,2020,2022,2024], "grid": true, "ticks": false, "labels": false, "domain": false}},
    "y": {"field": "v", "type": "quantitative", "scale": {"domain": [-89450, 13400], "nice": false, "zero": false}, "axis": {"orient": "right", "values": [-50000, 0], "labelExpr": "'\u25ba' + toString(datum.value)", "grid": true}},
    "color": {"datum": "Letzter Kurs am 1/28/25\u00a0\u00a0-19483.00", "type": "nominal", "scale": {"range": ["#0000ff"]}, "legend": {"orient": "none", "legendX": 32, "legendY": 1, "title": null, "symbolFillColor": "#0000ff", "symbolStrokeColor": "#0000ff", "symbolType": "square", "encode": {"symbols": {"update": {"fill": {"value": "#0000ff"}, "stroke": {"value": "#0000ff"}, "shape": {"value": "square"}}}}}}
   }},
  {"data": {"values": [{"t1": 1994.98, "t2": 2025.76, "v": 0}]}, "mark": {"type": "rule", "color": "#000000", "strokeWidth": 3, "strokeDash": [12, 9]},
   "encoding": {"x": {"field": "t1", "type": "quantitative"}, "x2": {"field": "t2"}, "y": {"field": "v", "type": "quantitative"}}},
  {"data": {"values": [{}]}, "mark": {"type": "rule", "color": "#404040", "strokeWidth": 6, "x2Offset": 95},
   "encoding": {"x": {"datum": 1994.98, "type": "quantitative"}, "x2": {"datum": 2025.76}, "y": {"datum": -89450, "type": "quantitative"}}},
  {"data": {"values": [{"v": -19483, "s": "-19483.00"}]}, "mark": {"type": "point", "shape": "M-4.25,0L-3.45,-1L4.25,-1L4.25,1L-3.45,1Z", "size": 484, "filled": true, "fill": "#0000ff", "stroke": "#1a1a1a", "strokeWidth": 0.8, "opacity": 1, "xOffset": 48},
   "encoding": {"x": {"datum": 2025.76, "type": "quantitative"}, "y": {"field": "v", "type": "quantitative"}}},
  {"data": {"values": [{"v": -19483, "s": "-19483.00"}]}, "mark": {"type": "text", "align": "left", "dx": 11, "color": "#ffffff", "fontSize": 15, "font": "DejaVu Sans Condensed, DejaVu Sans"},
   "encoding": {"x": {"datum": 2025.76, "type": "quantitative"}, "y": {"field": "v", "type": "quantitative"}, "text": {"field": "s"}}}
 ]
},
{
 "width": 1342, "height": 79,
 "layer": [
  {"data": {"name": "green"}, "mark": {"type": "line", "strokeWidth": 2.5},
   "encoding": {
    "x": {"field": "t", "type": "quantitative", "scale": {"domain": [1994.98, 2025.76], "nice": false, "zero": false}, "axis": {"values": [1996,1998,2000,2002,2004,2006,2008,2010,2012,2014,2016,2018,2020,2022,2024], "grid": true, "ticks": false, "labels": false, "domain": false}},
    "y": {"field": "v", "type": "quantitative", "scale": {"domain": [-90000, 48600], "nice": false, "zero": false}, "axis": {"orient": "right", "values": [-50000, 0], "labels": false, "grid": false}},
    "color": {"datum": "Letzter Kurs am 1/28/25\u00a0\u00a03315.00", "type": "nominal", "scale": {"range": ["#006400"]}, "legend": {"orient": "none", "legendX": 10, "legendY": 4, "title": null, "symbolFillColor": "#006400", "symbolStrokeColor": "#006400", "symbolType": "square", "encode": {"symbols": {"update": {"fill": {"value": "#006400"}, "stroke": {"value": "#006400"}, "shape": {"value": "square"}}}}}}
   }},
  {"data": {"values": [{"t1": 2009.7, "t2": 2025.76, "v": 0}]}, "mark": {"type": "rule", "color": "#000000", "strokeWidth": 3, "strokeDash": [12, 9]},
   "encoding": {"x": {"field": "t1", "type": "quantitative"}, "x2": {"field": "t2"}, "y": {"field": "v", "type": "quantitative"}}},
  {"data": {"values": [{}]}, "mark": {"type": "rule", "color": "#404040", "strokeWidth": 6, "x2Offset": 95},
   "encoding": {"x": {"datum": 1994.98, "type": "quantitative"}, "x2": {"datum": 2025.76}, "y": {"datum": -90000, "type": "quantitative"}}},
  {"data": {"values": [{"v": 3315, "s": "3315.00"}]}, "mark": {"type": "point", "shape": "M-4.25,0L-3.45,-1L4.25,-1L4.25,1L-3.45,1Z", "size": 484, "filled": true, "fill": "#006400", "stroke": "#1a1a1a", "strokeWidth": 0.8, "opacity": 1, "xOffset": 48},
   "encoding": {"x": {"datum": 2025.76, "type": "quantitative"}, "y": {"field": "v", "type": "quantitative"}}},
  {"data": {"values": [{"v": 3315, "s": "3315.00"}]}, "mark": {"type": "text", "align": "left", "dx": 13, "color": "#ffffff", "fontSize": 15, "font": "DejaVu Sans Condensed, DejaVu Sans"},
   "encoding": {"x": {"datum": 2025.76, "type": "quantitative"}, "y": {"field": "v", "type": "quantitative"}, "text": {"field": "s"}}}
 ]
},
{
 "width": 1342, "height": 79,
 "layer": [
  {"data": {"name": "lime"}, "mark": {"type": "line", "strokeWidth": 2.5},
   "encoding": {
    "x": {"field": "t", "type": "quantitative", "scale": {"domain": [1994.98, 2025.76], "nice": false, "zero": false}, "axis": {"values": [1996,1998,2000,2002,2004,2006,2008,2010,2012,2014,2016,2018,2020,2022,2024], "grid": true, "ticks": false, "labels": false, "domain": false}},
    "y": {"field": "v", "type": "quantitative", "scale": {"domain": [-50600, -1250], "nice": false, "zero": false}, "axis": {"orient": "right", "values": [-40000, -20000], "labelExpr": "datum.value == -20000 ? '' : '\u25ba' + toString(datum.value)", "grid": true}},
    "color": {"datum": "Letzter Kurs am 1/28/25\u00a0\u00a0-22798.00", "type": "nominal", "scale": {"range": ["#00ff00"]}, "legend": {"orient": "none", "legendX": 0, "legendY": 1, "title": null, "symbolFillColor": "#00ff00", "symbolStrokeColor": "#00ff00", "symbolType": "square", "encode": {"symbols": {"update": {"fill": {"value": "#00ff00"}, "stroke": {"value": "#00ff00"}, "shape": {"value": "square"}}}}}}
   }},
  {"data": {"values": [{}]}, "mark": {"type": "rule", "color": "#404040", "strokeWidth": 6, "x2Offset": 95},
   "encoding": {"x": {"datum": 1994.98, "type": "quantitative"}, "x2": {"datum": 2025.76}, "y": {"datum": -50600, "type": "quantitative"}}},
  {"data": {"values": [{"v": -22798, "s": "-22798.00"}]}, "mark": {"type": "point", "shape": "M-4.25,0L-3.45,-1L4.25,-1L4.25,1L-3.45,1Z", "size": 484, "filled": true, "fill": "#00ff00", "stroke": "#1a1a1a", "strokeWidth": 0.8, "opacity": 1, "xOffset": 48},
   "encoding": {"x": {"datum": 2025.76, "type": "quantitative"}, "y": {"field": "v", "type": "quantitative"}}},
  {"data": {"values": [{"v": -22798, "s": "-22798.00"}]}, "mark": {"type": "text", "align": "left", "dx": 11, "color": "#000000", "fontSize": 15, "font": "DejaVu Sans Condensed, DejaVu Sans"},
   "encoding": {"x": {"datum": 2025.76, "type": "quantitative"}, "y": {"field": "v", "type": "quantitative"}, "text": {"field": "s"}}}
 ]
},
{
 "width": 1342, "height": 72,
 "resolve": {"axis": {"x": "independent"}},
 "layer": [
  {"data": {"name": "orange"}, "mark": {"type": "line", "strokeWidth": 2.5},
   "encoding": {
    "x": {"field": "t", "type": "quantitative", "scale": {"domain": [1994.98, 2025.76], "nice": false, "zero": false}, "axis": {"orient": "bottom", "values": [1995,1996,1997,1998,1999,2000,2001,2002,2003,2004,2005,2006,2007,2008,2009,2010,2011,2012,2013,2014,2015,2016,2017,2018,2019,2020,2021,2022,2023,2024,2025], "ticks": true, "tickSize": 5, "labels": false, "domain": true, "grid": false}},
    "y": {"field": "v", "type": "quantitative", "scale": {"domain": [-44100, 61760], "nice": false, "zero": false}, "axis": {"orient": "right", "values": [0, 50000], "labelExpr": "datum.value == 0 ? '' : '\u25ba' + toString(datum.value)", "grid": true}},
    "color": {"datum": "Letzter Kurs am 1/28/25\u00a0\u00a02510.00", "type": "nominal", "scale": {"range": ["#f29100"]}, "legend": {"orient": "none", "legendX": 32, "legendY": 1, "title": null, "symbolFillColor": "#f29100", "symbolStrokeColor": "#f29100", "symbolType": "square", "encode": {"symbols": {"update": {"fill": {"value": "#f29100"}, "stroke": {"value": "#f29100"}, "shape": {"value": "square"}}}}}}
   }},
  {"data": {"name": "orange"}, "mark": {"type": "point", "opacity": 0},
   "encoding": {"x": {"field": "t", "type": "quantitative", "axis": {"orient": "bottom", "values": [1996,1998,2000,2002,2004,2006,2008,2010,2012,2014,2016,2018,2020,2022,2024], "grid": true, "ticks": false, "labels": false, "domain": false}}, "y": {"field": "v", "type": "quantitative"}}},
  {"data": {"name": "orange"}, "mark": {"type": "point", "opacity": 0},
   "encoding": {"x": {"field": "t", "type": "quantitative", "axis": {"orient": "bottom", "values": [2000,2005,2010,2015,2020,2025], "grid": false, "ticks": true, "tickSize": 44, "tickColor": "#999999", "labels": false, "domain": false}}, "y": {"field": "v", "type": "quantitative"}}},
  {"data": {"name": "orange"}, "mark": {"type": "point", "opacity": 0},
   "encoding": {"x": {"field": "t", "type": "quantitative", "axis": {"orient": "bottom", "values": [1997.5,2002.5,2007.5,2012.5,2017.5,2022.5], "grid": false, "ticks": false, "labels": true, "labelExpr": "toString(datum.value - 2.5) + '-' + toString(datum.value + 1.5)", "labelPadding": 25, "labelFontSize": 15, "domain": false}}, "y": {"field": "v", "type": "quantitative"}}},
  {"data": {"values": [{"t1": 2009.7, "t2": 2025.76, "v": 0}]}, "mark": {"type": "rule", "color": "#ff0000", "strokeWidth": 2.5, "strokeDash": [12, 9]},
   "encoding": {"x": {"field": "t1", "type": "quantitative", "axis": null}, "x2": {"field": "t2"}, "y": {"field": "v", "type": "quantitative"}}},
  {"data": {"values": [{"v": 2510, "s": "2510.00"}]}, "mark": {"type": "point", "shape": "M-4.25,0L-3.45,-1L4.25,-1L4.25,1L-3.45,1Z", "size": 484, "filled": true, "fill": "#f29100", "stroke": "#1a1a1a", "strokeWidth": 0.8, "opacity": 1, "xOffset": 48},
   "encoding": {"x": {"datum": 2025.76, "type": "quantitative", "axis": null}, "y": {"field": "v", "type": "quantitative"}}},
  {"data": {"values": [{"v": 2510, "s": "2510.00"}]}, "mark": {"type": "text", "align": "left", "dx": 13, "color": "#000000", "fontSize": 15, "font": "DejaVu Sans Condensed, DejaVu Sans"},
   "encoding": {"x": {"datum": 2025.76, "type": "quantitative", "axis": null}, "y": {"field": "v", "type": "quantitative"}, "text": {"field": "s"}}}
 ]
}
]
}
